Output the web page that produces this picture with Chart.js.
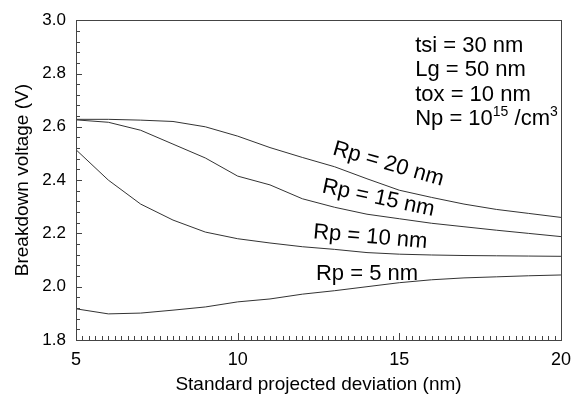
<!DOCTYPE html>
<html>
<head>
<meta charset="utf-8">
<script src="https://cdn.jsdelivr.net/npm/chart.js@4.4.1/dist/chart.umd.min.js"></script>
<style>
  html, body { margin: 0; padding: 0; background: #fff; }
  canvas { display: block; }
</style>
</head>
<body>
<canvas id="bvChart" width="580" height="396"></canvas>
<script>
// Odchylenie standardowe (nm) i napięcie przebicia (V) dla każdego Rp
const deviation = [5, 6, 7, 8, 9, 10, 11, 12, 13, 14, 15, 16, 17, 18, 19, 20];
const rp20 = [2.628, 2.628, 2.625, 2.620, 2.600, 2.565, 2.522, 2.485, 2.450, 2.405, 2.362, 2.335, 2.310, 2.290, 2.275, 2.260];
const rp15 = [2.626, 2.617, 2.587, 2.535, 2.483, 2.415, 2.382, 2.330, 2.298, 2.272, 2.255, 2.238, 2.225, 2.212, 2.200, 2.188];
const rp10 = [2.514, 2.400, 2.310, 2.250, 2.205, 2.180, 2.164, 2.150, 2.140, 2.128, 2.122, 2.119, 2.117, 2.116, 2.115, 2.114];
const rp5  = [1.917, 1.898, 1.901, 1.912, 1.924, 1.943, 1.954, 1.972, 1.985, 2.000, 2.015, 2.026, 2.033, 2.037, 2.041, 2.044];

const xTicks = [5, 10, 15, 20];
const yTicks = [1.8, 2.0, 2.2, 2.4, 2.6, 2.8, 3.0];

// Etykiety krzywych: tekst, pozycja w jednostkach danych, kąt (stopnie)
const curveLabels = [
    { text: 'Rp = 20 nm', x: 14.66, y: 2.460, angle: 16 },
    { text: 'Rp = 15 nm', x: 14.35, y: 2.332, angle: 12 },
    { text: 'Rp = 10 nm', x: 14.10, y: 2.186, angle: 5 },
    { text: 'Rp = 5 nm',  x: 14.00, y: 2.049, angle: 0 }
];
const paramLines = ['tsi = 30 nm', 'Lg = 50 nm', 'tox = 10 nm'];

const FONT = 'Arial, "Liberation Sans", sans-serif';
const LINE = '#333';

function toPoints(ys) {
    return deviation.map((x, i) => ({ x: x, y: ys[i] }));
}

// Ramka, ticki do środka i opisy
const extrasPlugin = {
    id: 'extras',
    afterDraw(chart) {
        const { ctx, chartArea: a, scales: { x, y } } = chart;
        ctx.save();
        ctx.strokeStyle = '#444';
        ctx.lineWidth = 1;
        ctx.strokeRect(Math.round(a.left) + 0.5, Math.round(a.top) + 0.5,
            Math.round(a.right - a.left), Math.round(a.bottom - a.top));

        ctx.beginPath();
        // ticki osi Y co 0.04, główne co 0.2
        for (let i = 0; i <= 30; i++) {
            const py = Math.round(y.getPixelForValue(1.8 + i * 0.04)) + 0.5;
            const len = (i % 5 === 0) ? 6 : 4;
            ctx.moveTo(a.left, py);
            ctx.lineTo(a.left + len, py);
        }
        // ticki osi X co 0.2, główne co 5
        for (let i = 0; i <= 75; i++) {
            const px = Math.round(x.getPixelForValue(5 + i * 0.2)) + 0.5;
            const len = (i % 25 === 0) ? 7 : 4;
            ctx.moveTo(px, a.bottom);
            ctx.lineTo(px, a.bottom - len);
        }
        ctx.stroke();

        // etykiety krzywych
        ctx.fillStyle = '#000';
        ctx.font = '22px ' + FONT;
        ctx.textAlign = 'center';
        ctx.textBaseline = 'middle';
        curveLabels.forEach(l => {
            ctx.save();
            ctx.translate(x.getPixelForValue(l.x), y.getPixelForValue(l.y));
            ctx.rotate(l.angle * Math.PI / 180);
            ctx.fillText(l.text, 0, 0);
            ctx.restore();
        });

        // parametry w prawym górnym rogu (linie bazowe)
        ctx.textAlign = 'left';
        ctx.textBaseline = 'alphabetic';
        ctx.font = '22px ' + FONT;
        const lx = x.getPixelForValue(15.49);
        const lineY = [2.882, 2.790, 2.697, 2.605];
        paramLines.forEach((t, i) => ctx.fillText(t, lx, y.getPixelForValue(lineY[i])));

        // Np = 10^15 /cm^3
        const ny = y.getPixelForValue(lineY[3]);
        let cx = lx;
        const part = (txt, size, dy) => {
            ctx.font = size + 'px ' + FONT;
            ctx.fillText(txt, cx, ny + dy);
            cx += ctx.measureText(txt).width;
        };
        part('Np = 10', 22, 0);
        part('15', 14, -9);
        part(' /cm', 22, 0);
        part('3', 14, -9);
        ctx.restore();
    }
};

const ctx = document.getElementById('bvChart').getContext('2d');
new Chart(ctx, {
    type: 'line',
    data: {
        datasets: [rp20, rp15, rp10, rp5].map(s => ({
            data: toPoints(s),
            borderColor: LINE,
            borderWidth: 1,
            pointRadius: 0,
            tension: 0,
            fill: false
        }))
    },
    plugins: [extrasPlugin],
    options: {
        responsive: false,
        animation: false,
        devicePixelRatio: 1,
        layout: { padding: { top: 15, right: 17, left: 0, bottom: 0 } },
        plugins: { legend: { display: false }, tooltip: { enabled: false } },
        scales: {
            x: {
                type: 'linear',
                min: 5,
                max: 20,
                afterBuildTicks: s => { s.ticks = xTicks.map(v => ({ value: v })); },
                afterFit: s => { s.height = 56; },
                grid: { display: false, drawTicks: false },
                border: { display: false },
                ticks: { color: '#000', font: { family: FONT, size: 18 }, padding: 9, maxRotation: 0, autoSkip: false },
                title: {
                    display: true,
                    text: 'Standard projected deviation (nm)',
                    color: '#000',
                    font: { family: FONT, size: 19 },
                    padding: { top: 0, bottom: 0 }
                }
            },
            y: {
                min: 1.8,
                max: 3.0,
                afterBuildTicks: s => { s.ticks = yTicks.map(v => ({ value: v })); },
                afterFit: s => { s.width = 76; },
                grid: { display: false, drawTicks: false },
                border: { display: false },
                ticks: {
                    color: '#000',
                    font: { family: FONT, size: 17 },
                    padding: 10,
                    autoSkip: false,
                    callback: v => Number(v).toFixed(1)
                },
                title: {
                    display: true,
                    text: 'Breakdown voltage (V)',
                    color: '#000',
                    font: { family: FONT, size: 19 },
                    padding: { top: 11, bottom: 0 }
                }
            }
        }
    }
});
</script>
</body>
</html>
